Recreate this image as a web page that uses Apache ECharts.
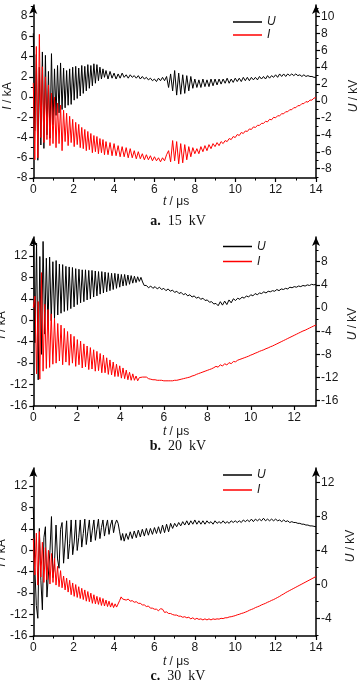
<!DOCTYPE html>
<html><head><meta charset="utf-8">
<script src="https://cdn.jsdelivr.net/npm/echarts@6/dist/echarts.min.js"></script>
<style>html,body{margin:0;padding:0;background:#fff}#c{width:360px;height:687px}</style>
</head><body><div id="c"></div>
<script>
// ---------- Panel a (15 kV) ----------
const tA = [0,0.075,0.15,0.225,0.3,0.375,0.45,0.525,0.6,0.675,0.75,0.825,0.9,0.975,1.05,1.125,1.2,1.275,1.35,1.425,1.5,1.575,1.65,1.725,1.8,1.875,1.95,2.025,2.1,2.175,2.25,2.325,2.4,2.475,2.55,2.625,2.7,2.775,2.85,2.925,3,3.075,3.15,3.225,3.3,3.375,3.45,3.525,3.6,
3.7,3.8,3.9,4.0,4.1,4.2,4.3,4.4,4.5,4.6,4.7,4.8,4.9,5.0,5.1,5.2,5.3,5.4,5.5,5.6,5.7,5.8,5.9,6.0,6.1,6.2,6.3,6.4,6.5,6.6,
6.7,6.8,6.9,7.0,7.1,7.2,7.3,7.4,7.5,7.6,7.7,7.8,7.9,8.0,
8.1,8.2,8.3,8.4,8.5,8.6,8.7,8.8,8.9,9.0,9.1,9.2,9.3,9.4,9.5,9.6,9.7,9.8,9.9,10.0,10.1,10.2,10.3,10.4,10.5,10.6,10.7,10.8,10.9,11.0,11.1,11.2,11.3,11.4,11.5,11.6,11.7,11.8,11.9,12.0,12.1,12.2,12.3,12.4,12.5,12.6,12.7,12.8,12.9,13.0,13.1,13.2,13.3,13.4,13.5,13.6,13.7,13.8,13.9,14.0];
const uA = [8.0,-3.5,5.5,-7.0,4.0,-5.2,5.8,-5.6,5.4,-4.0,
3.5,-4.4,5.6,-2.8,3.8,-1.7,4.2,-1.4,4.5,-1.0,
3.9,-0.8,3.6,-0.5,3.8,-0.4,4.0,0.1,4.1,0.3,
3.9,0.6,4.2,0.9,4.1,1.2,4.3,1.5,4.2,1.8,
4.4,2.1,4.3,2.4,4.0,2.6,3.8,2.8,3.6,
2.6,3.5,2.7,3.3,2.6,3.2,2.7,3.3,2.8,3.1,
2.7,3.1,2.8,3.0,2.7,3.0,2.6,2.9,2.6,2.8,
2.5,2.7,2.4,2.6,2.3,2.7,2.4,2.8,2.4,2.9,
1.6,3.2,1.2,3.6,0.7,3.3,0.8,3.1,0.9,3.0,1.2,2.9,1.5,2.6,
1.6,2.5,1.6,2.6,1.7,2.5,1.7,2.6,1.8,2.6,
1.9,2.6,2.0,2.6,2.1,2.7,2.1,2.6,2.2,2.7,
2.3,2.7,2.3,2.8,2.4,2.8,2.4,2.8,2.5,2.8,
2.5,2.9,2.6,2.9,2.6,3.0,2.7,3.0,2.8,3.1,
2.8,3.2,2.9,3.2,2.9,3.2,3.0,3.2,3.0,3.2,
3.0,3.1,2.9,3.1,2.9,3.0,2.9,2.9,2.8,2.8];
const iA = [1.4,-6.2,5.0,-6.0,6.2,-4.0,3.0,-4.5,2.0,-4.2,
1.2,-4.8,0.4,-4.6,0.0,-5.0,-0.6,-4.6,-0.8,-5.3,
-1.3,-4.4,-1.6,-4.8,-1.9,-4.5,-2.2,-4.9,-2.5,-4.7,
-2.7,-5.0,-3.0,-5.1,-3.2,-5.3,-3.4,-5.2,-3.6,-5.5,
-3.8,-5.4,-3.9,-5.6,-4.1,-5.5,-4.2,-5.7,-4.4,
-5.7,-4.5,-5.8,-4.6,-5.8,-4.8,-5.9,-4.9,-5.9,-5.0,
-6.0,-5.1,-6.0,-5.3,-6.1,-5.4,-6.1,-5.6,-6.2,-5.7,
-6.2,-5.8,-6.3,-5.9,-6.3,-6.0,-6.4,-6.0,-6.3,-5.7,
-5.3,-6.4,-4.3,-6.3,-4.4,-6.6,-4.6,-6.5,-4.7,-6.2,-4.9,-5.9,-5.0,-5.6,
-5.1,-5.6,-4.9,-5.4,-4.8,-5.3,-4.7,-5.1,-4.6,-4.9,
-4.5,-4.8,-4.4,-4.6,-4.3,-4.4,-4.1,-4.2,-3.9,-4.0,
-3.7,-3.8,-3.5,-3.6,-3.35,-3.4,-3.15,-3.2,-2.95,-3.0,
-2.8,-2.8,-2.6,-2.6,-2.4,-2.45,-2.2,-2.25,-2.0,-2.05,
-1.85,-1.85,-1.65,-1.65,-1.45,-1.45,-1.25,-1.25,-1.05,-1.05,
-0.85,-0.85,-0.65,-0.65,-0.45,-0.5,-0.3,-0.3,-0.1,-0.05];

// ---------- Panel b (20 kV) ----------
const tB = [0,0.075,0.15,0.225,0.3,0.375,0.45,0.525,0.6,0.675,0.75,0.825,0.9,0.975,1.05,1.125,1.2,1.275,1.35,1.425,1.5,1.575,1.65,1.725,1.8,1.875,1.95,2.025,2.1,2.175,2.25,2.325,2.4,2.475,2.55,2.625,2.7,2.775,2.85,2.925,3,3.075,3.15,3.225,3.3,3.375,3.45,3.525,3.6,3.675,3.75,3.825,3.9,3.975,4.05,4.125,4.2,4.275,4.35,4.425,4.5,4.575,4.65,4.725,4.8,4.875,4.95,5.025,5.1,
5.2,5.3,5.4,5.5,5.6,5.7,5.8,5.9,6.0,6.1,6.2,6.3,6.4,6.5,6.6,6.7,6.8,6.9,7.0,7.1,7.2,7.3,7.4,7.5,7.6,7.7,7.8,7.9,8.0,8.1,8.2,8.3,8.4,8.5,8.6,8.7,8.8,8.9,9.0,9.1,9.2,9.3,9.4,9.5,9.6,9.7,9.8,9.9,10.0,10.1,10.2,10.3,10.4,10.5,10.6,10.7,10.8,10.9,11.0,11.1,11.2,11.3,11.4,11.5,11.6,11.7,11.8,11.9,12.0,12.1,12.2,12.3,12.4,12.5,12.6,12.7,12.8,12.9,13.0];
const uB = [12.0,-6.0,11.2,-12.4,8.9,-8.0,11.5,-4.5,8.6,-3.2,
8.8,-2.2,8.0,-1.8,8.2,-1.2,7.6,-0.9,7.5,-0.6,
7.2,-0.4,7.1,-0.1,7.0,0.2,6.8,0.6,6.7,0.9,
6.6,1.1,6.6,1.4,6.5,1.6,6.5,1.9,6.4,2.1,
6.3,2.4,6.3,2.6,6.2,2.8,6.1,3.0,6.0,3.2,
6.0,3.4,5.9,3.6,5.8,3.8,5.8,3.9,5.7,4.1,
5.6,4.3,5.5,4.4,5.4,4.6,5.3,4.5,3.9,
3.9,3.5,3.8,3.4,3.7,3.3,3.6,3.2,3.4,3.0,
3.3,2.9,3.1,2.7,2.9,2.5,2.7,2.3,2.5,2.1,
2.3,1.9,2.1,1.7,1.9,1.5,1.7,1.3,1.4,1.0,
1.1,0.7,0.8,0.4,1.1,0.5,1.2,0.6,1.4,0.9,
1.6,1.3,1.7,1.5,1.9,1.7,2.1,1.9,2.3,2.1,
2.5,2.3,2.6,2.5,2.8,2.6,2.9,2.8,3.0,2.9,
3.2,3.0,3.3,3.2,3.4,3.3,3.6,3.5,3.7,3.6,
3.8,3.7,3.9,3.8,4.0,3.9,4.1,4.0,4.1];
const iB = [2.4,4.5,-10.0,3.5,-11.0,8.9,-9.5,3.0,-9.0,2.0,
-8.8,1.2,-8.2,0.3,-8.0,-0.6,-7.6,-0.9,-8.3,-1.5,
-7.8,-2.1,-8.4,-2.6,-8.0,-3.0,-8.6,-3.6,-8.3,-3.9,
-8.9,-4.4,-8.7,-4.8,-9.2,-5.1,-9.1,-5.5,-9.5,-5.8,
-9.4,-6.2,-9.8,-6.5,-9.8,-7.0,-10.1,-7.4,-10.2,-7.8,
-10.5,-8.2,-10.5,-8.5,-10.8,-8.9,-10.9,-9.3,-11.1,-9.7,
-11.2,-10.0,-11.2,-10.4,-11.3,-10.7,-11.0,-10.6,-10.3,
-10.6,-10.9,-11.0,-11.1,-11.1,-11.2,-11.2,-11.2,-11.3,-11.3,
-11.3,-11.3,-11.3,-11.2,-11.2,-11.1,-11.0,-10.9,-10.8,-10.7,
-10.6,-10.4,-10.3,-10.1,-9.95,-9.8,-9.65,-9.5,-9.35,-9.2,
-9.05,-8.85,-8.6,-8.75,-8.3,-8.55,-8.1,-8.35,-7.9,-8.1,
-7.7,-7.75,-7.45,-7.3,-7.15,-7.0,-6.85,-6.7,-6.5,-6.35,
-6.15,-6.0,-5.8,-5.65,-5.5,-5.3,-5.15,-4.95,-4.8,-4.6,
-4.4,-4.2,-4.0,-3.8,-3.6,-3.4,-3.2,-3.0,-2.8,-2.6,
-2.4,-2.2,-2.0,-1.85,-1.65,-1.45,-1.25,-1.05,-0.9];

// ---------- Panel c (30 kV) ----------
const tC = [0,0.075,0.15,0.225,0.3,0.375,0.45,0.525,0.6,0.675,0.75,0.825,0.9,0.975,1.05,1.125,1.2,1.275,1.35,1.425,1.5,1.575,1.65,1.725,1.8,1.875,1.95,2.025,2.1,2.175,2.25,2.325,2.4,2.475,2.55,2.625,2.7,2.775,2.85,2.925,3,3.075,3.15,3.225,3.3,3.375,3.45,3.525,3.6,3.675,3.75,3.825,3.9,3.975,4.05,4.125,4.2,4.275,4.35,4.425,4.5,
4.6,4.7,4.8,4.9,5.0,5.1,5.2,5.3,5.4,5.5,5.6,5.7,5.8,5.9,6.0,6.1,6.2,6.3,6.4,6.5,6.6,6.7,6.8,6.9,7.0,7.1,7.2,7.3,7.4,7.5,7.6,7.7,7.8,7.9,8.0,8.1,8.2,8.3,8.4,8.5,8.6,8.7,8.8,8.9,9.0,9.1,9.2,9.3,9.4,9.5,9.6,9.7,9.8,9.9,10.0,10.1,10.2,10.3,10.4,10.5,10.6,10.7,10.8,10.9,11.0,11.1,11.2,11.3,11.4,11.5,11.6,11.7,11.8,11.9,12.0,12.1,12.2,12.3,12.4,12.5,12.6,12.7,12.8,12.9,13.0,13.1,13.2,13.3,13.4,13.5,13.6,13.7,13.8,13.9,14.0];
const uC = [9.0,2.0,-2.5,-4.0,6.6,0.5,-3.0,5.5,6.8,-1.5,
-1.6,4.0,8.0,0.8,2.5,7.0,3.0,1.9,6.5,7.3,
2.5,5.0,7.5,3.0,4.8,7.6,3.5,5.0,7.6,4.0,
5.5,7.6,4.4,6.0,7.7,4.7,6.2,7.6,5.0,6.4,
7.6,5.2,6.5,7.7,5.4,6.7,7.6,5.7,6.8,7.6,
5.9,7.0,7.6,6.1,7.1,7.6,7.2,6.2,5.2,6.0,
5.1,
6.0,5.3,6.2,5.4,6.3,5.5,6.4,5.6,6.5,5.7,
6.6,5.8,6.6,5.9,6.7,6.0,6.8,6.0,7.0,6.1,
7.1,6.2,7.2,6.6,7.2,6.8,7.3,6.9,7.4,7.0,
7.5,7.0,7.5,7.1,7.6,7.1,7.5,7.1,7.5,7.1,
7.5,7.2,7.4,7.1,7.5,7.2,7.4,7.2,7.5,7.2,
7.4,7.2,7.5,7.3,7.5,7.3,7.5,7.3,7.6,7.4,
7.6,7.4,7.7,7.4,7.7,7.5,7.7,7.5,7.8,7.5,
7.7,7.5,7.7,7.5,7.7,7.5,7.6,7.4,7.6,7.4,
7.5,7.3,7.4,7.3,7.3,7.2,7.2,7.1,7.1,7.0,
7.0,6.9,6.9,6.85,6.8];
const iC = [2.2,-4.6,3.2,-6.5,3.5,-5.0,1.5,-6.0,0.5,-5.5,
0.0,-6.3,-0.6,-6.0,-1.5,-6.5,-3.0,-6.8,-3.8,-7.0,
-4.8,-7.4,-5.2,-7.8,-5.6,-8.3,-6.1,-8.6,-6.4,-8.8,
-6.8,-9.0,-7.1,-9.2,-7.4,-9.5,-7.7,-9.6,-8.0,-9.9,
-8.3,-10.0,-8.6,-10.1,-8.8,-10.3,-9.0,-10.4,-9.3,-10.5,
-9.5,-10.6,-9.8,-10.7,-10.0,-10.6,-10.3,-9.4,-8.7,-9.1,
-9.0,
-9.3,-9.1,-9.5,-9.4,-9.7,-9.6,-9.9,-9.9,-10.2,-10.2,
-10.5,-10.4,-10.8,-10.8,-11.0,-11.0,-11.3,-10.9,-11.0,-11.6,
-11.5,-11.8,-11.8,-12.0,-12.1,-12.1,-12.3,-12.3,-12.5,-12.4,
-12.6,-12.5,-12.8,-12.6,-12.9,-12.7,-12.9,-12.8,-13.0,-12.8,
-13.0,-12.8,-13.0,-12.8,-12.9,-12.8,-12.85,-12.7,-12.75,-12.6,
-12.6,-12.45,-12.4,-12.3,-12.2,-12.05,-11.95,-11.8,-11.7,-11.55,
-11.4,-11.2,-11.05,-10.9,-10.7,-10.55,-10.4,-10.2,-10.05,-9.9,
-9.7,-9.55,-9.35,-9.2,-9.0,-8.8,-8.6,-8.35,-8.15,-7.9,
-7.7,-7.5,-7.3,-7.1,-6.9,-6.7,-6.5,-6.3,-6.1,-5.9,
-5.7,-5.5,-5.3,-5.1,-4.9];

// ---------- Tick labels ----------
const xTicksA = [0,2,4,6,8,10,12,14], xMinorA = [1,3,5,7,9,11,13];
const xTicksB = [0,2,4,6,8,10,12],   xMinorB = [1,3,5,7,9,11];
const xTicksC = [0,2,4,6,8,10,12,14], xMinorC = [1,3,5,7,9,11,13];
const yLeftTicksA = [-8,-6,-4,-2,0,2,4,6,8], yLeftMinorA = [-7,-5,-3,-1,1,3,5,7,9];
const yRightTicksA = [-8,-6,-4,-2,0,2,4,6,8,10], yRightMinorA = [-9,-7,-5,-3,-1,1,3,5,7,9,11];
const yLeftTicksB = [-16,-12,-8,-4,0,4,8,12], yLeftMinorB = [-14,-10,-6,-2,2,6,10,14];
const yRightTicksB = [-16,-12,-8,-4,0,4,8], yRightMinorB = [-14,-10,-6,-2,2,6,10];
const yLeftTicksC = [-16,-12,-8,-4,0,4,8,12], yLeftMinorC = [-14,-10,-6,-2,2,6,10,14];
const yRightTicksC = [-4,0,4,8,12], yRightMinorC = [-6,-2,2,6,10];
const seriesNames = ['U','I'];
const captions = [['a.','15  kV'],['b.','20  kV'],['c.','30  kV']];

// ---------- Layout ----------
const FONT = 'Liberation Sans, Arial, sans-serif';
const SERIF = 'Liberation Serif, Times New Roman, serif';
const panels = [
  {grid:{left:33.3, top:5, width:282.7, height:173},
   x:{min:0,max:14,ticks:xTicksA,minor:xMinorA},
   yl:{min:-8,max:9.1,ticks:yLeftTicksA,minor:yLeftMinorA},
   yr:{min:-9.1,max:11.35,ticks:yRightTicksA,minor:yRightMinorA},
   t:tA,u:uA,i:iA, legend:{left:233, top:15.5, lh:13},
   lname:[7.5,96], rname:[353.5,96], xname:[176,202], cap:[178,221]},
  {grid:{left:33.3, top:237, width:282.7, height:169},
   x:{min:0,max:13,ticks:xTicksB,minor:xMinorB},
   yl:{min:-16,max:15.55,ticks:yLeftTicksB,minor:yLeftMinorB},
   yr:{min:-16.92,max:12.27,ticks:yRightTicksB,minor:yRightMinorB},
   t:tB,u:uB,i:iB, legend:{left:223, top:239, lh:15},
   lname:[1.5,325], rname:[352.5,324], xname:[176,432], cap:[178,446]},
  {grid:{left:33.3, top:468, width:282.7, height:168},
   x:{min:0,max:14,ticks:xTicksC,minor:xMinorC},
   yl:{min:-16,max:15.36,ticks:yLeftTicksC,minor:yLeftMinorC},
   yr:{min:-6.09,max:13.73,ticks:yRightTicksC,minor:yRightMinorC},
   t:tC,u:uC,i:iC, legend:{left:223, top:467.5, lh:15},
   lname:[1.5,553], rname:[351,546], xname:[176,662], cap:[178,676]}
];

function pairs(t, v) { const n = Math.min(t.length, v.length); const o = []; for (let k = 0; k < n; k++) o.push([t[k], v[k]]); return o; }
const AXC = '#000', LBL = '#1a1a1a';
function mainAxis(g, pos, a, isY) {
  return {
    type:'value', gridIndex:g, position:pos, min:a.min, max:a.max,
    axisLine:{show:true, onZero:false, symbol: isY ? ['none','arrow'] : 'none', symbolSize:[6,9], lineStyle:{color:AXC, width:1.5}},
    axisTick:{show:true, inside:false, length:4, customValues:a.ticks, lineStyle:{color:AXC, width:1.2}},
    axisLabel:{show:true, customValues:a.ticks, margin: isY ? (pos==='left'?6:5) : 6, fontSize:12, fontFamily:FONT, color:LBL},
    splitLine:{show:false}, minorTick:{show:false}
  };
}
function minorAxis(g, pos, a) {
  return {
    type:'value', gridIndex:g, position:pos, min:a.min, max:a.max,
    axisLine:{show:false, onZero:false},
    axisTick:{show:true, inside:false, length:2.5, customValues:a.minor, lineStyle:{color:AXC, width:1}},
    axisLabel:{show:false}, splitLine:{show:false}
  };
}
const grid = [], xAxis = [], yAxis = [], series = [], legend = [], graphic = [];
panels.forEach((p, g) => {
  grid.push(Object.assign({containLabel:false}, p.grid));
  xAxis.push(mainAxis(g, 'bottom', p.x, false), minorAxis(g, 'bottom', p.x));
  yAxis.push(mainAxis(g, 'left', p.yl, true), minorAxis(g, 'left', p.yl),
             mainAxis(g, 'right', p.yr, true), minorAxis(g, 'right', p.yr));
  series.push({type:'line', name:seriesNames[0], xAxisIndex:2*g, yAxisIndex:4*g+2, data:pairs(p.t, p.u),
    showSymbol:false, symbol:'none', lineStyle:{color:'#000', width:1}, itemStyle:{color:'#000'}, z:2});
  series.push({type:'line', name:seriesNames[1], xAxisIndex:2*g, yAxisIndex:4*g, data:pairs(p.t, p.i),
    showSymbol:false, symbol:'none', lineStyle:{color:'#ff0000', width:1}, itemStyle:{color:'#ff0000'}, z:3});
  legend.push({left:p.legend.left, top:p.legend.top, orient:'vertical', padding:0, itemGap:0,
    itemWidth:29, itemHeight:1.5, icon:'rect', selectedMode:false, data:seriesNames,
    textStyle:{fontStyle:'italic', fontSize:12, lineHeight:p.legend.lh, color:LBL, fontFamily:FONT}});
  graphic.push({type:'text', x:p.lname[0], y:p.lname[1], rotation:Math.PI/2,
    style:{text:'{i|I} / kA', rich:{i:{fontStyle:'italic', fontSize:12, fontFamily:FONT, fill:LBL}}, fontSize:12, fontFamily:FONT, fill:LBL, align:'center', verticalAlign:'middle', textAlign:'center', textVerticalAlign:'middle'}});
  graphic.push({type:'text', x:p.rname[0], y:p.rname[1], rotation:Math.PI/2,
    style:{text:'{i|U} / kV', rich:{i:{fontStyle:'italic', fontSize:12, fontFamily:FONT, fill:LBL}}, fontSize:12, fontFamily:FONT, fill:LBL, align:'center', verticalAlign:'middle', textAlign:'center', textVerticalAlign:'middle'}});
  graphic.push({type:'text', x:p.xname[0], y:p.xname[1],
    style:{text:'{i|t} / μs', rich:{i:{fontStyle:'italic', fontSize:12, fontFamily:FONT, fill:LBL}}, fontSize:12, fontFamily:FONT, fill:LBL, align:'center', verticalAlign:'middle', textAlign:'center', textVerticalAlign:'middle'}});
  graphic.push({type:'text', x:p.cap[0], y:p.cap[1],
    style:{text:'{b|' + captions[g][0] + '}  ' + captions[g][1], rich:{b:{fontWeight:'bold', fontSize:14, fontFamily:SERIF, fill:'#111'}}, fontSize:14, fontFamily:SERIF, fill:'#111', align:'center', verticalAlign:'middle', textAlign:'center', textVerticalAlign:'middle'}});
});

const chart = echarts.init(document.getElementById('c'), null, {renderer:'canvas'});
chart.setOption({animation:false, backgroundColor:'#fff', grid, xAxis, yAxis, series, legend, graphic});
</script>
</body></html>
